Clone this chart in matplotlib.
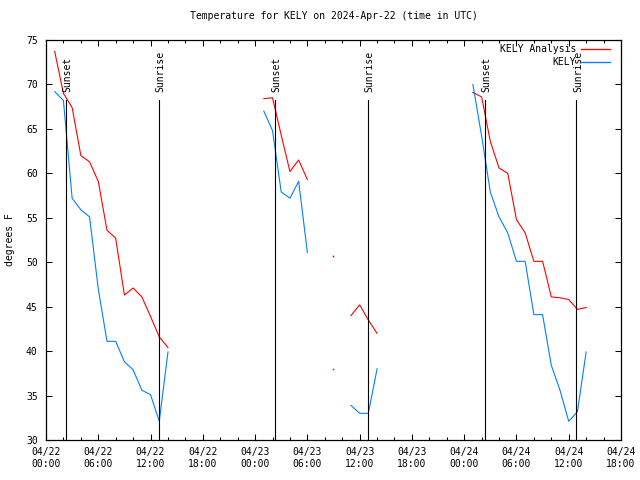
import numpy as np
import pandas as pd
import matplotlib
matplotlib.use("Agg")
import matplotlib.pyplot as plt
import matplotlib.dates as mdates
from matplotlib.lines import Line2D

nan = np.nan
start = "2024-04-22 01:00"
analysis = [73.7, 69.0, 67.4, 62.0, 61.3, 59.1, 53.6, 52.7, 46.3, 47.1, 46.1, 43.9, 41.6, 40.4,
            nan, nan, nan, nan, nan, nan, nan, nan, nan, nan,
            68.4, 68.5, 64.3, 60.2, 61.5, 59.3,
            nan, nan, 50.7, nan,
            44.0, 45.2, 43.5, 42.0,
            nan, nan, nan, nan, nan, nan, nan, nan, nan, nan,
            69.1, 68.6, 63.6, 60.6, 60.0, 54.8, 53.3, 50.1, 50.1, 46.1, 46.0, 45.8, 44.7, 44.9]
observed = [69.2, 68.2, 57.2, 55.9, 55.1, 47.0, 41.1, 41.1, 38.8, 37.9, 35.6, 35.1, 32.1, 39.9,
            nan, nan, nan, nan, nan, nan, nan, nan, nan, nan,
            67.0, 64.8, 57.9, 57.2, 59.1, 51.1,
            nan, nan, 38.0, nan,
            33.9, 33.0, 33.0, 38.0,
            nan, nan, nan, nan, nan, nan, nan, nan, nan, nan,
            70.0, 64.2, 57.9, 55.1, 53.3, 50.1, 50.1, 44.1, 44.1, 38.4, 35.6, 32.1, 33.2, 39.9]
series_names = ["KELY Analysis", "KELY"]
series_colors = ["#ff0000", "#0080ff"]
sunsets = ["2024-04-22 02:18", "2024-04-23 02:20", "2024-04-24 02:22"]
sunrises = ["2024-04-22 12:58", "2024-04-23 12:55", "2024-04-24 12:53"]
title = "Temperature for KELY on 2024-Apr-22 (time in UTC)"
ylabel = "degrees F"

times = pd.date_range(start, periods=len(analysis), freq="h")
FONT = "DejaVu Sans Mono"
FS = 7

fig = plt.figure(figsize=(6.4, 4.8), dpi=100)
ax = fig.add_axes([46/640, 40/480, 575/640, 400/480])

lw = 0.8
handles = []
for vals, col, name in zip([analysis, observed], series_colors, series_names):
    v = np.array(vals, dtype=float)
    ax.plot(times, v, color=col, lw=lw)
    iso = np.zeros(len(v), bool)
    for i in range(len(v)):
        if not np.isnan(v[i]):
            left = i == 0 or np.isnan(v[i-1])
            right = i == len(v)-1 or np.isnan(v[i+1])
            iso[i] = left and right
    ax.plot(times[iso], v[iso], ls="none", marker="s", ms=1.2, mew=0, color=col)
    handles.append(Line2D([], [], color=col, lw=lw * 1.2, label=name))

for t, lab in [(s, "Sunset") for s in sunsets] + [(s, "Sunrise") for s in sunrises]:
    tt = pd.Timestamp(t)
    ax.plot([tt, tt], [30, 68.3], color="black", lw=lw)
    ax.text(tt + pd.Timedelta(minutes=10), 69.1, lab, rotation=90, ha="center", va="bottom",
            family=FONT, fontsize=FS)

ax.set_xlim(pd.Timestamp("2024-04-22 00:00"), pd.Timestamp("2024-04-24 18:00"))
ax.set_ylim(30, 75)
ax.set_yticks(np.arange(30, 76, 5))
ax.xaxis.set_major_locator(mdates.HourLocator(byhour=[0, 6, 12, 18]))
ax.xaxis.set_minor_locator(mdates.HourLocator(byhour=range(0, 24, 2)))
ax.xaxis.set_major_formatter(mdates.DateFormatter("%m/%d\n%H:%M"))
ax.tick_params(axis="both", which="both", direction="in", top=True, right=True, width=0.75)
ax.tick_params(axis="both", which="major", length=4)
ax.tick_params(axis="x", which="minor", length=2)
ax.tick_params(axis="y", pad=6)
ax.tick_params(axis="x", pad=5)
for lbl in ax.get_xticklabels() + ax.get_yticklabels():
    lbl.set_family(FONT)
    lbl.set_fontsize(FS)
    lbl.set_linespacing(1.3)
for s in ax.spines.values():
    s.set_linewidth(0.9)

ax.set_title(title, family=FONT, fontsize=FS, pad=15)
ax.set_ylabel(ylabel, family=FONT, fontsize=FS, labelpad=8)

ax.legend(handles=handles, loc="upper right", bbox_to_anchor=((610 - 46) / 575, (440 - 44) / 400),
          frameon=False, markerfirst=False, handlelength=3.0,
          handletextpad=0.5, labelspacing=0.35, borderaxespad=0, borderpad=0,
          prop={"family": FONT, "size": FS})

fig.savefig("out.png", dpi=100)
